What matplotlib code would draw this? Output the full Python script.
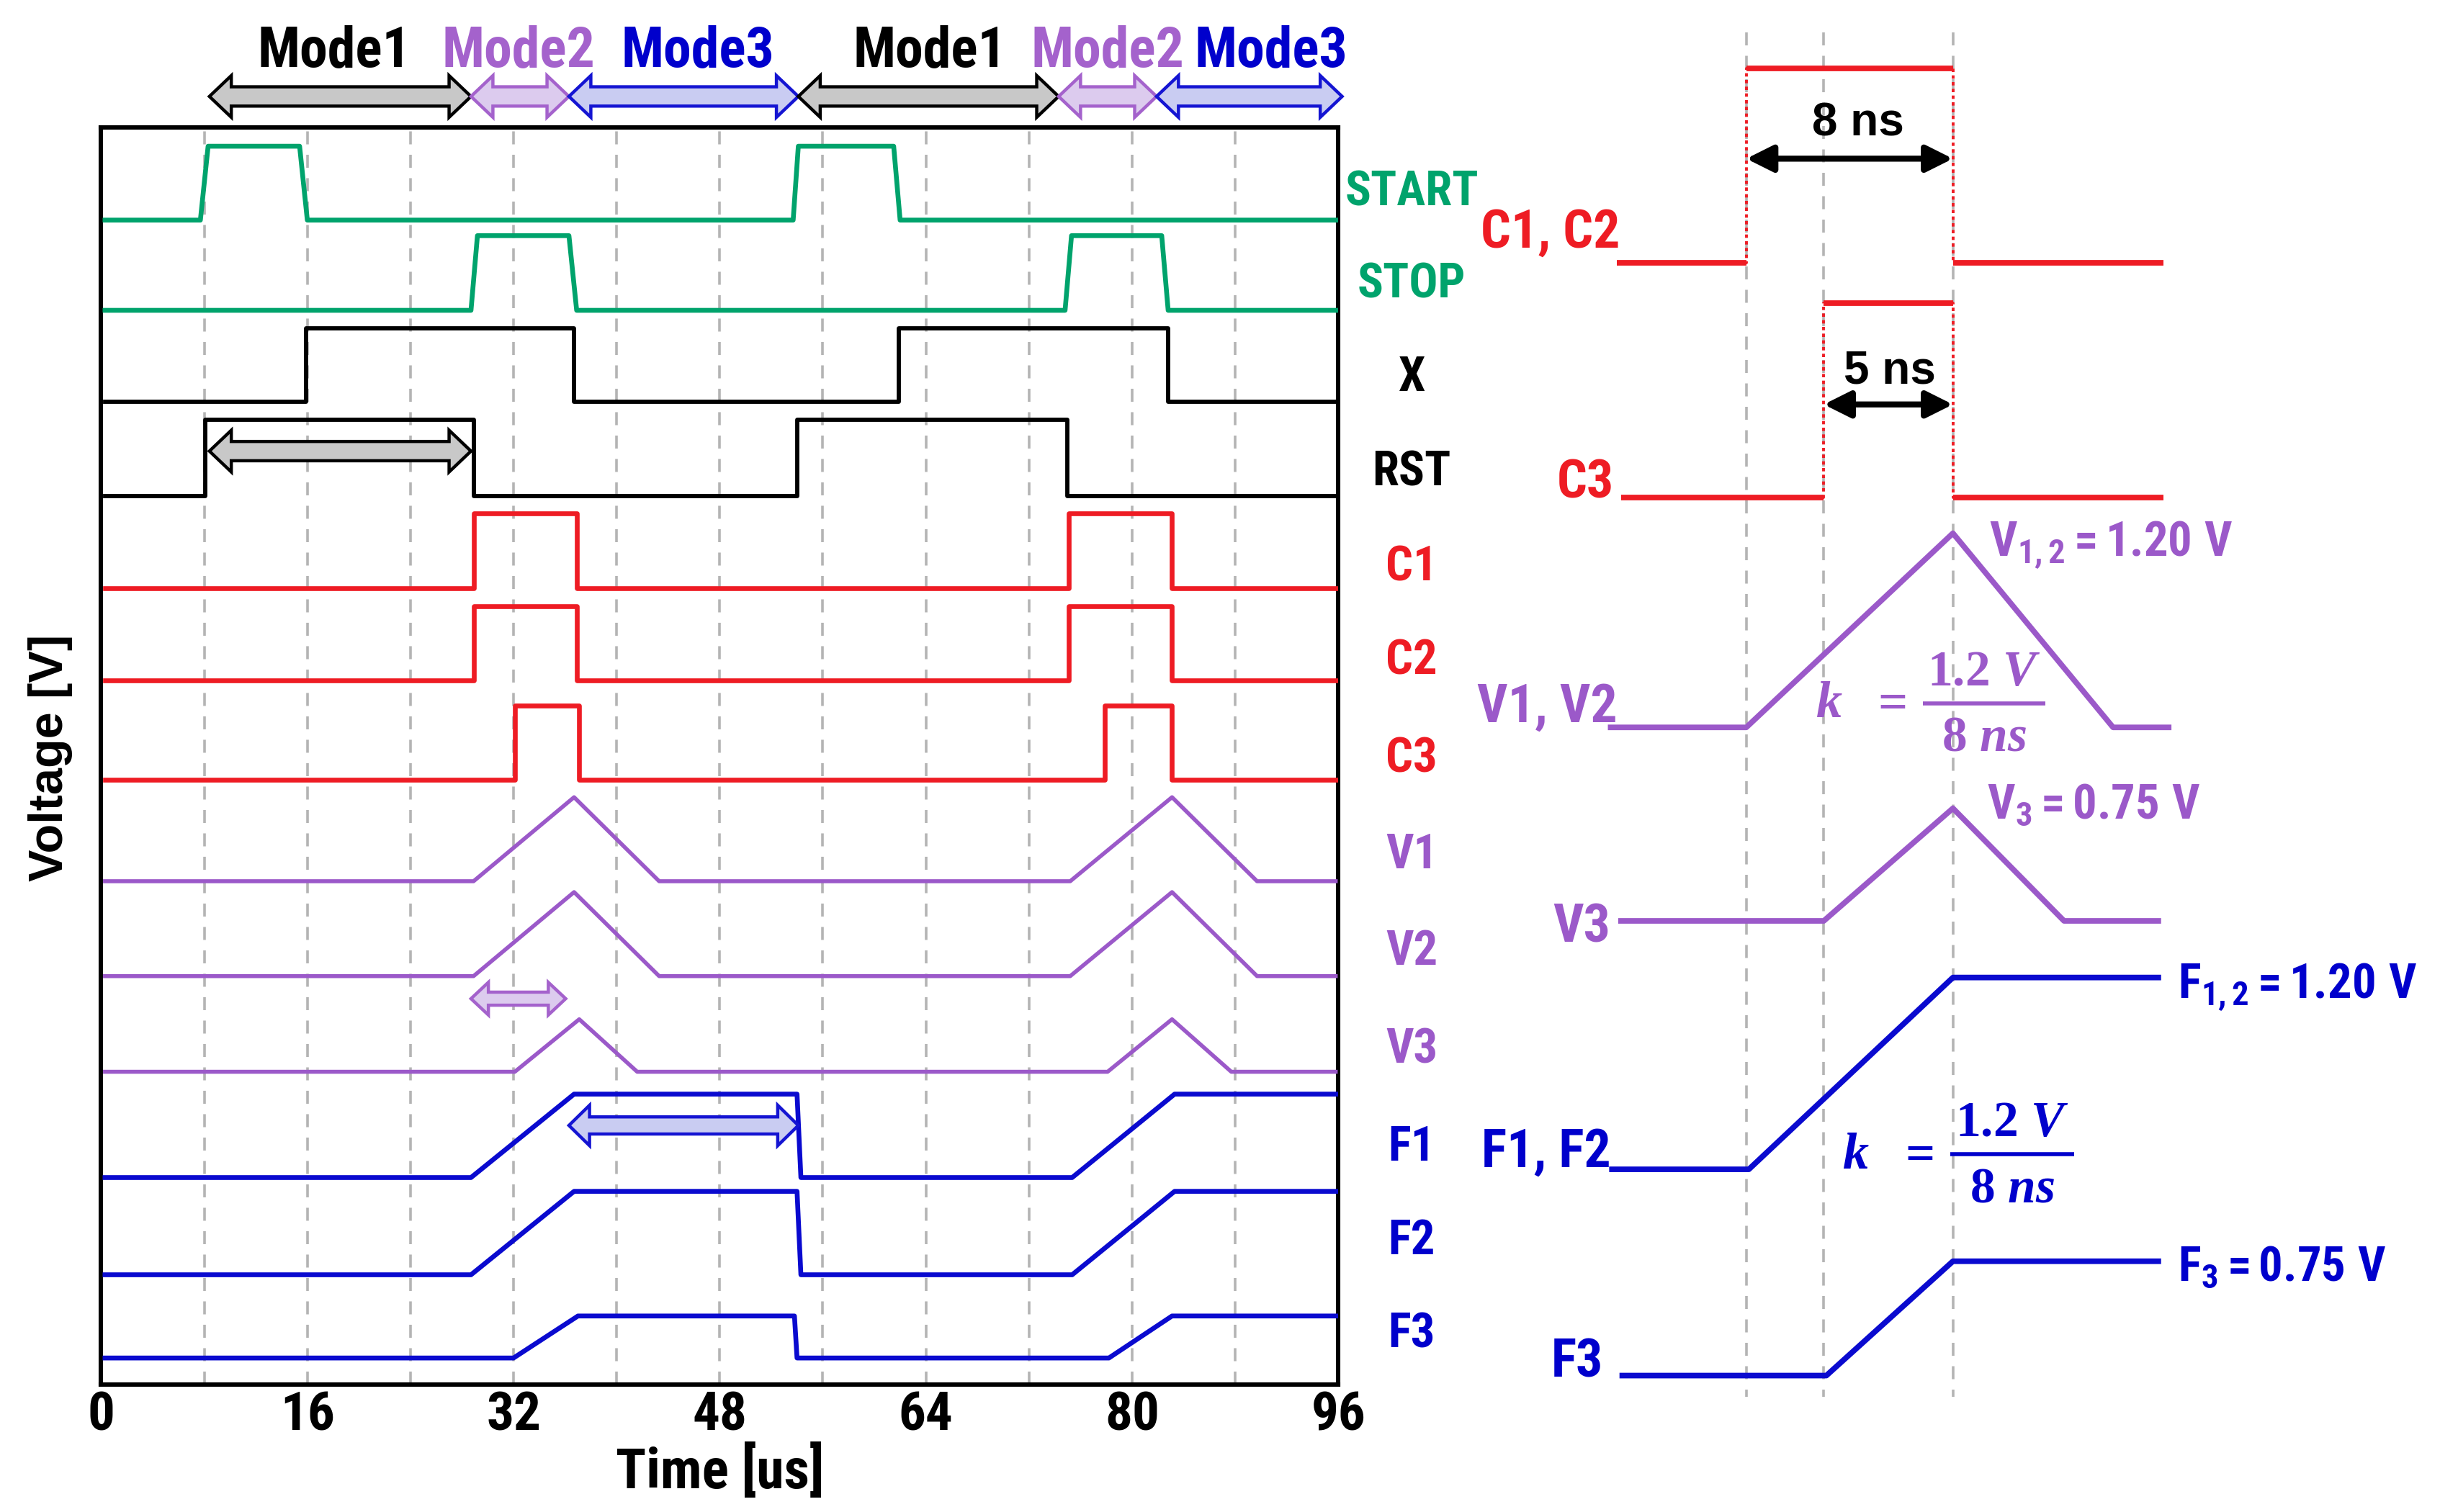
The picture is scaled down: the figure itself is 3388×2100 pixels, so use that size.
import numpy as np
import matplotlib
matplotlib.use('Agg')
import matplotlib.pyplot as plt
from matplotlib.patches import Polygon
from matplotlib import font_manager

# ---------------- left panel (time in us; logic 0/1, analog in V) ----------------
start_t = [0.3, 7.7, 8.3, 15.4, 16.0, 53.7, 54.1, 61.5, 62.0, 95.8]
stop_t = [0.3, 28.7, 29.2, 36.3, 36.9, 74.8, 75.3, 82.3, 82.8, 95.8]
x_t = [0.3, 15.9, 15.9, 36.7, 36.7, 61.9, 61.9, 82.8, 82.8, 95.8]
rst_t = [0.3, 8.1, 8.1, 28.9, 28.9, 54.0, 54.0, 75.0, 75.0, 95.8]
c12_t = [0.3, 28.9, 28.9, 36.9, 36.9, 75.1, 75.1, 83.1, 83.1, 95.8]
c3_t = [0.3, 32.1, 32.1, 37.1, 37.1, 77.9, 77.9, 83.1, 83.1, 95.8]
pulse_v = [0, 0, 1, 1, 0, 0, 1, 1, 0, 0]

v12_t = [0.3, 28.9, 36.7, 43.3, 75.2, 83.1, 89.7, 95.8]
v12_v = [0, 0, 1.2, 0, 0, 1.2, 0, 0]
v3_t = [0.3, 32.1, 37.1, 41.6, 78.1, 83.1, 87.7, 95.8]
v3_v = [0, 0, 0.75, 0, 0, 0.75, 0, 0]
f12_t = [0.3, 28.7, 36.7, 54.0, 54.3, 75.35, 83.3, 95.8]
f12_v = [0, 0, 1.2, 1.2, 0, 0, 1.2, 1.2]
f3_t = [0.3, 32.0, 37.0, 53.8, 54.0, 78.2, 83.1, 95.8]
f3_v = [0, 0, 0.75, 0.75, 0, 0, 0.75, 0.75]

mode_names = ['Mode1', 'Mode2', 'Mode3', 'Mode1', 'Mode2', 'Mode3']
mode_edges = [8.4, 28.7, 36.3, 54.1, 74.3, 81.9, 96.3]
mode_label_t = [18.1, 32.4, 46.3, 64.3, 78.1, 90.8]
xticks = [0, 16, 32, 48, 64, 80, 96]

# ---------------- right panel (time in ns) ----------------
r_c12_t = [-5.0, 0, 0, 8, 8, 16.15]
r_c3_t = [-4.85, 3, 3, 8, 8, 16.15]
r_pulse_v = [0, 0, 1, 1, 0, 0]
r_v12_t = [-5.25, 0, 8, 14.2, 16.35]
r_v12_v = [0, 0, 1.2, 0, 0]
r_v3_t = [-4.85, 3, 8, 12.3, 15.95]
r_v3_v = [0, 0, 0.75, 0, 0]
r_f12_t = [-5.2, 0.1, 8, 15.95]
r_f12_v = [0, 0, 1.2, 1.2]
r_f3_t = [-4.8, 3.1, 8, 15.95]
r_f3_v = [0, 0, 0.75, 0.75]
marker_t = [0, 3, 8]

GREEN = '#00A36C'
RED = '#EE1C24'
PURPLE = '#9B59C9'
BLUE = '#0A0ACF'
LBLUE = '#0000CC'

# narrow bold face if there is one, else plain Liberation Sans a bit smaller
names = {f.name for f in font_manager.fontManager.ttflist}
NARROW, SZ = 'Liberation Sans', 0.84
for fam in ['Liberation Sans Narrow', 'Arial Narrow', 'Roboto Condensed']:
    if fam in names:
        NARROW, SZ = fam, 1.0
        break

plt.rcParams['font.family'] = [NARROW, 'DejaVu Sans']
plt.rcParams['font.weight'] = 'bold'
plt.rcParams['mathtext.fontset'] = 'custom'
plt.rcParams['mathtext.rm'] = 'Liberation Serif:bold'
plt.rcParams['mathtext.bf'] = 'Liberation Serif:bold'
plt.rcParams['mathtext.it'] = 'Liberation Serif:italic:bold'
plt.rcParams['mathtext.sf'] = NARROW + ':bold'

fig = plt.figure(figsize=(16.94, 10.5), dpi=200)
# left axes: y in layout pixels of the 1568x972 sketch, inverted
ax = fig.add_axes([65 / 1568, (972 - 890) / 972, 795 / 1568, 808 / 972])
ax.set_xlim(0, 96)
ax.set_ylim(890, 82)
for s in ax.spines.values():
    s.set_linewidth(2.2)
ax.set_yticks([])
ax.set_xticks(xticks)
ax.tick_params(axis='x', length=0, pad=3, labelsize=27 * SZ)
for lab in ax.get_xticklabels():
    lab.set_fontfamily(NARROW)
    lab.set_fontweight('bold')

for g in np.arange(8, 96, 8):
    ax.axvline(g, color='#B4B4B4', lw=1.3, ls=(0, (5, 4)), zorder=0)

# lane: label, times, values, baseline, px per unit, colour, linewidth, label colour, label y
lanes = [
    ('START', start_t, pulse_v, 141.5, 47.5, GREEN, 2.4, GREEN, 123.6),
    ('STOP', stop_t, pulse_v, 199.5, 48, GREEN, 2.4, GREEN, 183),
    ('X', x_t, pulse_v, 258.5, 47.5, 'black', 2.1, 'black', 243),
    ('RST', rst_t, pulse_v, 319, 49, 'black', 2.1, 'black', 304),
    ('C1', c12_t, pulse_v, 378, 48, RED, 2.4, RED, 365),
    ('C2', c12_t, pulse_v, 437.5, 48, RED, 2.4, RED, 425),
    ('C3', c3_t, pulse_v, 501.5, 48, RED, 2.4, RED, 488),
    ('V1', v12_t, v12_v, 566.5, 45, PURPLE, 2.0, PURPLE, 550),
    ('V2', v12_t, v12_v, 627.5, 45, PURPLE, 2.0, PURPLE, 612),
    ('V3', v3_t, v3_v, 689, 45, PURPLE, 2.0, PURPLE, 675),
    ('F1', f12_t, f12_v, 757, 44.7, BLUE, 2.4, LBLUE, 738),
    ('F2', f12_t, f12_v, 819.5, 44.7, BLUE, 2.4, LBLUE, 798),
    ('F3', f3_t, f3_v, 873, 36, BLUE, 2.4, LBLUE, 858),
]
for name, t, v, base, scale, col, lw, lcol, ly in lanes:
    ax.plot(t, base - scale * np.asarray(v), color=col, lw=lw, zorder=3)
    ax.text(101.7, ly, name, color=lcol, fontsize=24 * SZ, fontweight='bold',
            ha='center', va='center', clip_on=False)


def block_arrow(a, x0, x1, y, hl, hw, tw, face, edge, lw=1.6):
    pts = [(x0, y), (x0 + hl, y - hw), (x0 + hl, y - tw), (x1 - hl, y - tw),
           (x1 - hl, y - hw), (x1, y), (x1 - hl, y + hw), (x1 - hl, y + tw),
           (x0 + hl, y + tw), (x0 + hl, y + hw)]
    a.add_patch(Polygon(pts, closed=True, fc=face, ec=edge, lw=lw,
                        clip_on=False, zorder=6, joinstyle='miter'))


mode_style = {'Mode1': ('#C8C8C8', 'black', 'black'),
              'Mode2': ('#DCCBEE', '#A462CC', '#A462CC'),
              'Mode3': ('#C9CCF2', '#1414D2', '#0000CC')}
for i, name in enumerate(mode_names):
    face, edge, tcol = mode_style[name]
    block_arrow(ax, mode_edges[i], mode_edges[i + 1], 62, 1.7, 13.4, 6.2, face, edge)
    ax.text(mode_label_t[i], 33, name, color=tcol, fontsize=28 * SZ, fontweight='bold',
            ha='center', va='center', clip_on=False)

block_arrow(ax, 8.4, 28.7, 290, 1.7, 13.4, 6.2, '#C8C8C8', 'black')
block_arrow(ax, 28.7, 36.05, 642, 1.35, 10.5, 4.2, '#DCCBEE', '#A462CC')
block_arrow(ax, 36.3, 54.1, 723.5, 1.6, 13, 5.5, '#C9CCF2', '#1414D2')

ax.text(48, 946, 'Time [us]', fontsize=28 * SZ, fontweight='bold', ha='center',
        va='center', clip_on=False)
ax.text(-3.94, 487, 'Voltage [V]', fontsize=24, fontweight='bold', rotation=90,
        family=['Liberation Sans', 'DejaVu Sans'], ha='center', va='center',
        clip_on=False)

# ---------------- right panel ----------------
ax2 = fig.add_axes([(1122.2 - 6 * 16.6) / 1568, 0, 32.8 * 16.6 / 1568, 1])
ax2.set_xlim(-6, 26.8)
ax2.set_ylim(972, 0)
ax2.axis('off')
ax2.vlines(marker_t, 21, 898, color='#B4B4B4', lw=1.3, ls=(0, (5, 4)), zorder=0)


def pulse(a, t, v, base, scale, col):
    t = np.asarray(t, float)
    y = base - scale * np.asarray(v, float)
    a.plot(t, y, color=col, lw=1.4, ls=(0, (1.2, 1.2)), zorder=2)
    for i in range(len(t) - 1):
        if t[i] != t[i + 1]:
            a.plot(t[i:i + 2], y[i:i + 2], color=col, lw=2.8, zorder=3,
                   solid_capstyle='butt')


pulse(ax2, r_c12_t, r_pulse_v, 169, 125, RED)
pulse(ax2, r_c3_t, r_pulse_v, 320, 125, RED)
ax2.plot(r_v12_t, 467.6 - 104 * np.asarray(r_v12_v), color=PURPLE, lw=2.8)
ax2.plot(r_v3_t, 592 - 96.5 * np.asarray(r_v3_v), color=PURPLE, lw=2.8)
ax2.plot(r_f12_t, 751.7 - 102.75 * np.asarray(r_f12_v), color=BLUE, lw=2.8)
ax2.plot(r_f3_t, 884.3 - 98 * np.asarray(r_f3_v), color=BLUE, lw=2.8)

for lab, xr, yb, col in [('C1, C2', -4.89, 159, RED), ('C3', -5.13, 320, RED),
                         ('V1, V2', -4.98, 464, PURPLE), ('V3', -5.25, 605.7, PURPLE),
                         ('F1, F2', -5.25, 750, LBLUE), ('F3', -5.55, 885, LBLUE)]:
    ax2.text(xr, yb, lab, color=col, fontsize=26.5 * SZ, fontweight='bold',
             ha='right', va='baseline')

for lab, xl, yb, col in [(r'$\mathsf{V_{1,2} = 1.20\ V}$', 9.4, 357, PURPLE),
                         (r'$\mathsf{V_{3} = 0.75\ V}$', 9.33, 526, PURPLE),
                         (r'$\mathsf{F_{1,2} = 1.20\ V}$', 16.7, 641.4, LBLUE),
                         (r'$\mathsf{F_{3} = 0.75\ V}$', 16.7, 823, LBLUE)]:
    ax2.text(xl, yb, lab, color=col, fontsize=24 * SZ, ha='left', va='baseline')

ax2.annotate('', xy=(0, 102), xytext=(8, 102),
             arrowprops=dict(arrowstyle='<|-|>', lw=3, color='black',
                             mutation_scale=28, shrinkA=0, shrinkB=0))
ax2.annotate('', xy=(3, 260), xytext=(8, 260),
             arrowprops=dict(arrowstyle='<|-|>', lw=3, color='black',
                             mutation_scale=28, shrinkA=0, shrinkB=0))
ax2.text(4.32, 79.5, '8 ns', fontsize=23, fontweight='bold', ha='center', va='center',
         family=['Liberation Sans', 'DejaVu Sans'])
ax2.text(5.56, 238.6, '5 ns', fontsize=23, fontweight='bold', ha='center', va='center',
         family=['Liberation Sans', 'DejaVu Sans'])


def slope_formula(a, xk, xeq, x0, x1, yc, col):
    # k = 1.2 V / 8 ns, written as pieces so the fraction keeps full size
    a.text(xk, yc, r'$k$', color=col, fontsize=26, ha='center', va='center')
    a.text(xeq, yc, r'$=$', color=col, fontsize=26, ha='center', va='center')
    a.plot([x0, x1], [yc, yc], color=col, lw=2.0, solid_capstyle='butt')
    xm = (x0 + x1) / 2
    a.text(xm, yc - 5, r'$1.2\ V$', color=col, fontsize=25, ha='center', va='bottom')
    a.text(xm, yc + 7, r'$8\ ns$', color=col, fontsize=25, ha='center', va='top')


slope_formula(ax2, 3.2, 5.49, 6.84, 11.58, 452, PURPLE)
slope_formula(ax2, 4.25, 6.53, 7.9, 12.7, 742, LBLUE)

fig.savefig('out.png', dpi=200)
